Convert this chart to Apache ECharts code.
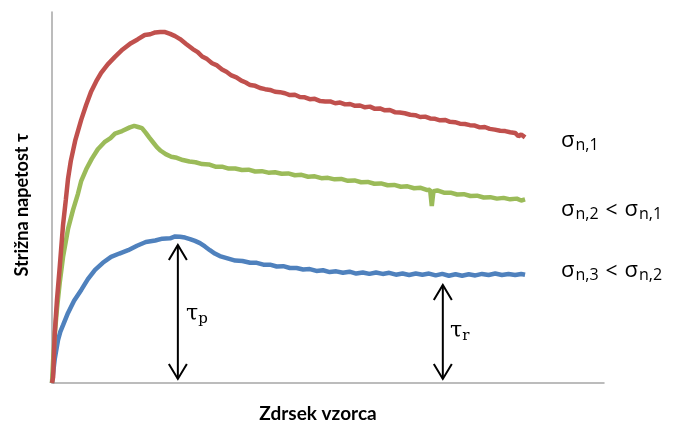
<!DOCTYPE html>
<html><head><meta charset="utf-8">
<script src="https://cdn.jsdelivr.net/npm/echarts@6/dist/echarts.min.js"></script>
<style>html,body{margin:0;padding:0;background:#fff}#c{width:675px;height:425px}</style>
</head><body><div id="c"></div>
<script>
const redCurve = [[0,0],[0.2,1.6],[0.5,13.5],[0.9,22.4],[1.4,31.3],[2.0,42.6],[2.5,49.3],[2.9,55.0],[3.4,59.8],[4.2,65.3],[5.3,71.0],[6.2,75.0],[7.1,78.6],[8.0,81.3],[8.9,83.6],[10.1,85.9],[11.4,87.9],[12.8,89.9],[14.3,91.6],[15.5,92.6],[16.8,93.8],[17.8,94.0],[18.7,94.5],[19.6,94.6],[20.5,94.6],[21.4,94.1],[22.3,93.5],[23.2,92.7],[24.3,91.4],[25.5,90.0],[26.4,89.2],[27.2,88.0],[28.1,87.3],[29.0,86.2],[29.9,85.6],[30.8,84.5],[31.6,83.9],[32.5,82.9],[33.4,82.4],[34.3,81.5],[35.1,81.0],[35.9,80.3],[36.8,80.1],[37.7,79.5],[38.6,79.2],[39.5,79.0],[40.4,78.5],[41.3,78.4],[42.2,78.1],[43.1,77.6],[44.0,77.7],[44.9,77.1],[45.8,77.0],[46.7,76.5],[47.6,76.6],[48.6,76.0],[49.5,75.9],[50.4,75.9],[51.3,75.4],[52.2,75.6],[53.1,75.1],[54.0,75.2],[54.9,74.7],[55.8,74.8],[56.7,74.3],[57.6,74.5],[58.5,73.9],[59.4,74.0],[60.3,73.5],[61.2,73.6],[62.1,73.0],[63.0,72.9],[63.9,72.7],[64.9,72.3],[65.8,72.2],[66.7,71.7],[67.6,71.8],[68.5,71.3],[69.4,71.2],[70.3,70.8],[71.2,70.9],[72.1,70.4],[73.0,70.3],[73.9,69.9],[74.8,69.8],[75.7,69.5],[76.6,69.4],[77.5,68.9],[78.4,69.0],[79.3,68.5],[80.2,68.3],[81.2,68.0],[82.1,67.9],[83.0,67.6],[83.9,67.4],[84.5,66.5],[85.0,67.0],[85.7,66.2]];
const greenCurve = [[0,0],[0.2,6],[0.5,13],[0.9,20],[1.4,27],[2.0,34],[2.9,41.5],[3.8,46.6],[4.7,51.0],[5.3,54.5],[6.2,57.6],[7.2,60.4],[8.3,63.0],[9.5,64.9],[10.6,66.0],[11.4,67.2],[12.7,67.9],[14.1,68.9],[14.9,69.3],[15.6,69.0],[16.3,68.7],[17.0,67.4],[17.6,66.2],[18.3,64.9],[19.0,63.6],[19.7,62.6],[20.6,61.7],[21.6,61.0],[22.6,60.7],[23.7,60.1],[24.9,59.7],[26.0,59.5],[27.2,59.0],[28.4,58.9],[29.6,58.3],[30.8,58.3],[32.0,57.8],[33.2,57.8],[34.4,57.4],[35.6,57.5],[36.8,57.0],[38.0,57.1],[39.2,56.7],[40.4,56.8],[41.6,56.4],[42.8,56.5],[44.0,56.0],[45.2,56.1],[46.4,55.6],[47.6,55.7],[48.8,55.2],[50.0,55.3],[51.2,54.9],[52.4,55.0],[53.6,54.5],[54.8,54.6],[56.0,54.1],[57.2,54.2],[58.4,53.7],[59.6,53.8],[60.8,53.3],[62.0,53.4],[63.2,52.9],[64.4,53.0],[65.6,52.5],[66.8,52.6],[68.0,52.0],[68.5,52.1],[68.8,47.7],[69.1,51.7],[69.8,51.9],[71.0,51.3],[72.2,51.3],[73.4,50.8],[74.6,50.9],[75.8,50.4],[77.0,50.5],[78.2,50.0],[79.4,50.1],[80.6,49.7],[81.8,49.9],[83.0,49.5],[84.2,49.7],[85.0,49.2],[85.7,49.5]];
const blueCurve = [[0,0],[0.2,2.7],[0.5,6.5],[1.1,11.6],[1.5,13.8],[2.0,15.6],[2.9,18.9],[4.0,22.2],[5.3,25.1],[6.5,28.0],[7.8,30.5],[9.2,32.4],[10.7,34.0],[12.2,34.9],[13.8,35.8],[15.4,37.0],[17.0,38.0],[18.7,38.4],[20.0,38.9],[21.4,39.0],[22.3,39.5],[23.2,39.4],[24.1,39.2],[25.0,38.8],[25.9,38.3],[26.8,37.7],[27.7,36.8],[28.6,35.8],[29.5,34.9],[30.4,34.2],[31.8,33.6],[33.2,33.0],[34.5,32.9],[35.9,32.4],[37.1,32.4],[38.3,31.9],[39.5,31.9],[40.7,31.4],[41.9,31.5],[43.1,31.0],[44.3,31.0],[45.5,30.6],[46.7,30.7],[47.9,30.2],[49.1,30.4],[50.3,29.9],[51.5,30.1],[52.7,29.7],[53.9,30.0],[55.1,29.5],[56.3,29.8],[57.5,29.4],[58.7,29.8],[59.9,29.4],[61.1,29.7],[62.3,29.2],[63.5,29.5],[64.7,29.1],[65.9,29.5],[67.1,29.2],[68.3,29.5],[69.5,29.0],[70.7,29.4],[71.9,28.9],[73.1,29.3],[74.3,28.9],[75.5,29.3],[76.7,29.0],[77.9,29.4],[79.1,29.1],[80.3,29.5],[81.5,29.1],[82.7,29.4],[83.9,29.1],[85.0,29.4],[85.7,29.2]];
// arrows: [x, top, bottom]
const arrows = [[22.8, 37.2, 1.1], [70.8, 26.4, 1.1]];
const xTitle = 'Zdrsek vzorca';
const yTitle = 'Strižna napetost τ';

const chart = echarts.init(document.getElementById('c'));
const axisLine = {show:true, lineStyle:{color:'#A6A6A6', width:1.5}};
const sRich = {
  s:{fontSize:22, fontFamily:'Open Sans', fill:'#000'},
  b:{fontSize:16, fontFamily:'Open Sans', fill:'#000', padding:[9,0,0,1]},
  l:{fontSize:21, fontFamily:'Open Sans', fill:'#000', padding:[3,7,0,7]}
};
const tRich = {
  t:{fontSize:22, fontFamily:'DejaVu Serif', fill:'#000'},
  p:{fontSize:15, fontFamily:'DejaVu Serif', fill:'#000', padding:[10,0,0,0]}
};
const option = {
  animation:false,
  grid:{left:52, right:71, top:12, bottom:42},
  xAxis:{type:'value', min:0, max:100, axisLine, axisTick:{show:false}, axisLabel:{show:false}, splitLine:{show:false}},
  yAxis:{type:'value', min:0, max:100, axisLine, axisTick:{show:false}, axisLabel:{show:false}, splitLine:{show:false}},
  series:[
    {type:'line', data:redCurve, showSymbol:false, lineStyle:{color:'#C0504D', width:4.5}, z:3},
    {type:'line', data:greenCurve, showSymbol:false, lineStyle:{color:'#9BBB59', width:4.5}, z:2},
    {type:'line', data:blueCurve, showSymbol:false, lineStyle:{color:'#4F81BD', width:4.5}, z:1},
    {type:'custom', data:arrows, z:5, renderItem:function(params, api){
      const x = api.value(0);
      const t = api.coord([x, api.value(1)]);
      const b = api.coord([x, api.value(2)]);
      const a = 9, h = 15;
      const st = {stroke:'#000', lineWidth:2, fill:null};
      return {type:'group', children:[
        {type:'line', shape:{x1:t[0], y1:t[1], x2:b[0], y2:b[1]}, style:st},
        {type:'polyline', shape:{points:[[t[0]-a, t[1]+h],[t[0], t[1]],[t[0]+a, t[1]+h]]}, style:st},
        {type:'polyline', shape:{points:[[b[0]-a, b[1]-h],[b[0], b[1]],[b[0]+a, b[1]-h]]}, style:st}
      ]};
    }}
  ],
  graphic:[
    {type:'text', x:318, y:414, style:{text:xTitle, font:'bold 19px Lato', fill:'#000', align:'center', verticalAlign:'middle'}},
    {type:'text', x:22, y:205, rotation:Math.PI/2, style:{text:yTitle, font:'bold 18px Lato', fill:'#000', align:'center', verticalAlign:'middle'}},
    {type:'text', x:561, y:141, style:{text:'{s|σ}{b|n,1}', verticalAlign:'middle', rich:sRich}},
    {type:'text', x:561, y:210, style:{text:'{s|σ}{b|n,2}{l|<}{s|σ}{b|n,1}', verticalAlign:'middle', rich:sRich}},
    {type:'text', x:561, y:271, style:{text:'{s|σ}{b|n,3}{l|<}{s|σ}{b|n,2}', verticalAlign:'middle', rich:sRich}},
    {type:'text', x:186, y:314, style:{text:'{t|τ}{p|p}', verticalAlign:'middle', rich:tRich}},
    {type:'text', x:450, y:331, style:{text:'{t|τ}{p|r}', verticalAlign:'middle', rich:tRich}}
  ]
};
chart.setOption(option);
</script></body></html>
